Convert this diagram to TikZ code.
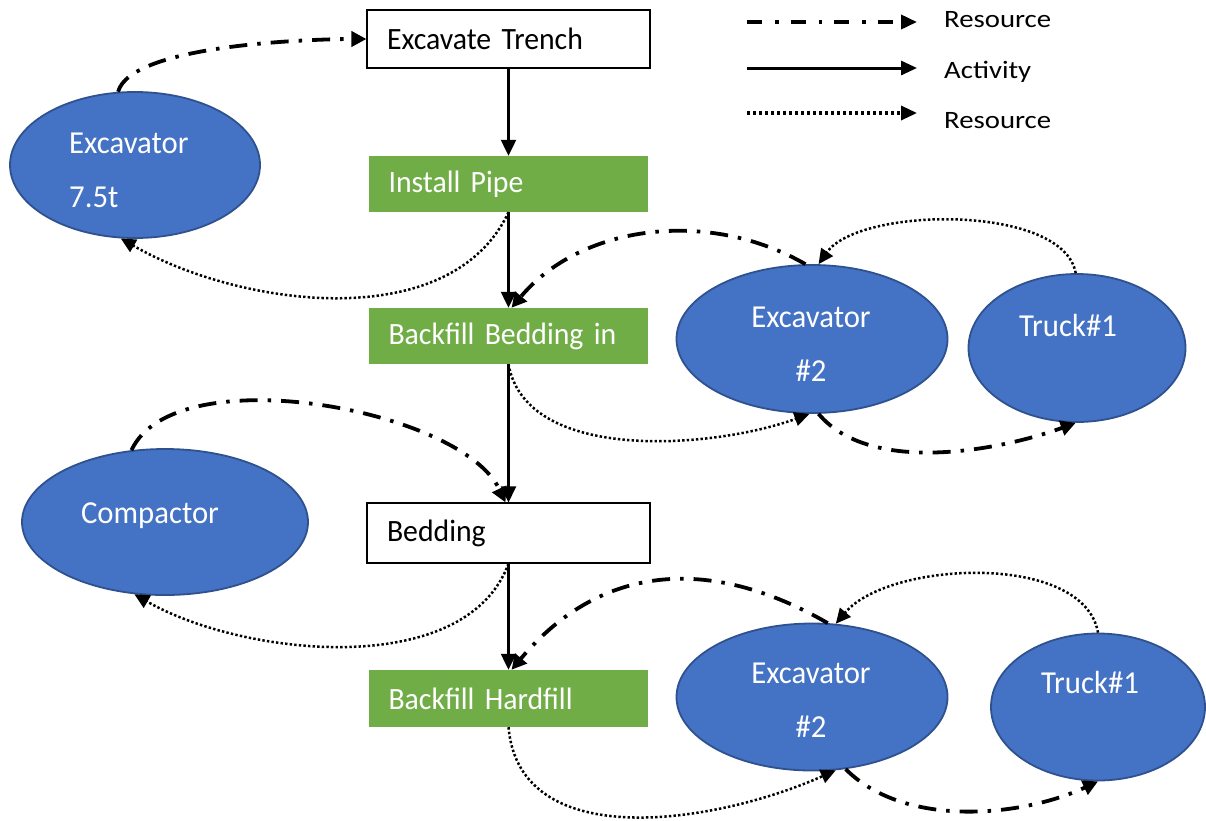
\documentclass[tikz,border=0pt]{standalone}
\usepackage{fontspec}
\setmainfont{Carlito}
\newfontfamily\boxfont[FakeStretch=0.96,WordSpace=0.75]{Carlito}
\newfontfamily\legfont[FakeStretch=1.15]{Carlito}
\usetikzlibrary{arrows.meta,shapes.geometric}
\definecolor{resblue}{HTML}{4472C4}
\definecolor{resedge}{HTML}{2F528F}
\definecolor{actgreen}{HTML}{70AD47}
\begin{document}
\begin{tikzpicture}[x=1pt,y=1pt,
  whitebox/.style={draw=black,line width=1.1pt,fill=white,minimum width=283pt,minimum height=58pt,
    text width=243pt,align=left,inner xsep=20pt,inner ysep=0pt,font=\boxfont\fontsize{31}{36}\selectfont},
  greenbox/.style={fill=actgreen,text=white,minimum width=279pt,minimum height=56pt,
    text width=240pt,align=left,inner xsep=19.5pt,inner ysep=0pt,font=\boxfont\fontsize{31}{36}\selectfont},
  resnode/.style={ellipse,draw=resedge,line width=1.8pt,fill=resblue,inner sep=0pt},
  rtext/.style={text=white,inner sep=0pt,font=\boxfont\fontsize{32}{54}\selectfont},
  legtext/.style={inner sep=0pt,font=\legfont\fontsize{25}{28}\selectfont},
  actarrow/.style={line width=2.2pt,-{Triangle[length=16pt,width=15pt]}},
  dd/.style={line width=3.8pt,dash pattern=on 18pt off 10pt on 3.5pt off 10pt,-{Triangle[length=15pt,width=15pt]}},
  dt/.style={line width=2.5pt,dash pattern=on 2.4pt off 2.2pt,-{Triangle[length=15pt,width=14pt]}},
]
\path[use as bounding box,fill=white] (0,0) rectangle (1206,-820);

% activity boxes
\node[whitebox] (tr) at (508.5,-39) {Excavate Trench};
\node[greenbox] (ip) at (508.5,-184) {Install Pipe};
\node[greenbox] (bb) at (508.5,-336) {Backfill Bedding in};
\node[whitebox,minimum height=60pt] (bd) at (508.5,-533) {Bedding};
\node[greenbox,minimum height=57pt] (hf) at (508.5,-698.5) {Backfill Hardfill};

% resource ellipses
\node[resnode,minimum width=250pt,minimum height=146pt] (ex1) at (135,-165) {};
\node[resnode,minimum width=286pt,minimum height=146pt] (cmp) at (165,-522) {};
\node[resnode,minimum width=271pt,minimum height=148pt] (ex2) at (812,-339) {};
\node[resnode,minimum width=217pt,minimum height=148pt] (tr1) at (1077,-348) {};
\node[resnode,minimum width=271pt,minimum height=147pt] (ex3) at (812,-697) {};
\node[resnode,minimum width=214pt,minimum height=147pt] (tr2) at (1098,-707) {};

% ellipse texts
\node[rtext,align=left,anchor=west] (ex1t) at (69,-170) {Excavator\\7.5t};
\node[rtext,anchor=base] (cmpt) at (150,-523) {Compactor};
\node[rtext,align=center] (ex2t) at (811,-344) {Excavator\\\#2};
\node[rtext,anchor=base] (tr1t) at (1068,-336) {Truck\#1};
\node[rtext,align=center] (ex3t) at (811,-700.5) {Excavator\\\#2};
\node[rtext,anchor=base] (tr2t) at (1090,-693) {Truck\#1};

% activity arrows
\draw[actarrow] (tr.south) -- (ip.north);
\draw[actarrow] (ip.south) -- (bb.north);
\draw[actarrow] (bb.south) -- (bd.north);
\draw[actarrow] (bd.south) -- (hf.north);

% Excavator 7.5t
\draw[dd] (ex1.103) to[out=75,in=180,looseness=0.5] (tr.west);
\draw[dt] (ip.south) to[out=-115,in=-30,looseness=0.9] (ex1.259);

% upper excavator/truck
\draw[dt] (tr1.91) to[out=100,in=55,looseness=0.7] (ex2.85);
\draw[dd] (ex2.95) to[out=150,in=50,looseness=0.95] ([xshift=3pt]bb.north);
\draw[dt] (bb.south) to[out=-80,in=200,looseness=0.85] (ex2.268);
\draw[dd] (ex2.275) to[out=-50,in=200,looseness=0.8] (tr1.269);

% compactor
\draw[dd] (cmp.115) to[out=65,in=115,looseness=0.7] ([xshift=-3pt]bd.north);
\draw[dt] (bd.south) to[out=-110,in=-30,looseness=0.85] (cmp.247);

% lower excavator/truck
\draw[dt] (tr2.90) to[out=100,in=50,looseness=0.8] (ex3.72);
\draw[dd] (ex3.78) to[out=150,in=50,looseness=1.1] ([xshift=3pt]hf.north);
\draw[dt] (hf.south) to[out=-85,in=204,looseness=1] (ex3.288);
\draw[dd] (ex3.295) to[out=-45,in=205,looseness=0.85] (tr2.270);

% legend
\coordinate (l1a) at (747,-22); \coordinate (l1b) at (917,-22);
\coordinate (l2a) at (747,-68); \coordinate (l2b) at (917,-68);
\coordinate (l3a) at (747,-113); \coordinate (l3b) at (917,-113);
\draw[line width=3.6pt,dash pattern=on 15pt off 13pt on 3.5pt off 12pt,-{Triangle[length=16pt,width=14pt]}] (l1a) -- (l1b);
\draw[line width=3pt,-{Triangle[length=16pt,width=14pt]}] (l2a) -- (l2b);
\draw[line width=3.3pt,dash pattern=on 3pt off 3pt,-{Triangle[length=16pt,width=14pt]}] (l3a) -- (l3b);
\node[legtext,anchor=base west] (lg1) at (944,-27) {Resource};
\node[legtext,anchor=base west] (lg2) at (944,-78) {Activity};
\node[legtext,anchor=base west] (lg3) at (944,-128) {Resource};
\end{tikzpicture}
\end{document}
